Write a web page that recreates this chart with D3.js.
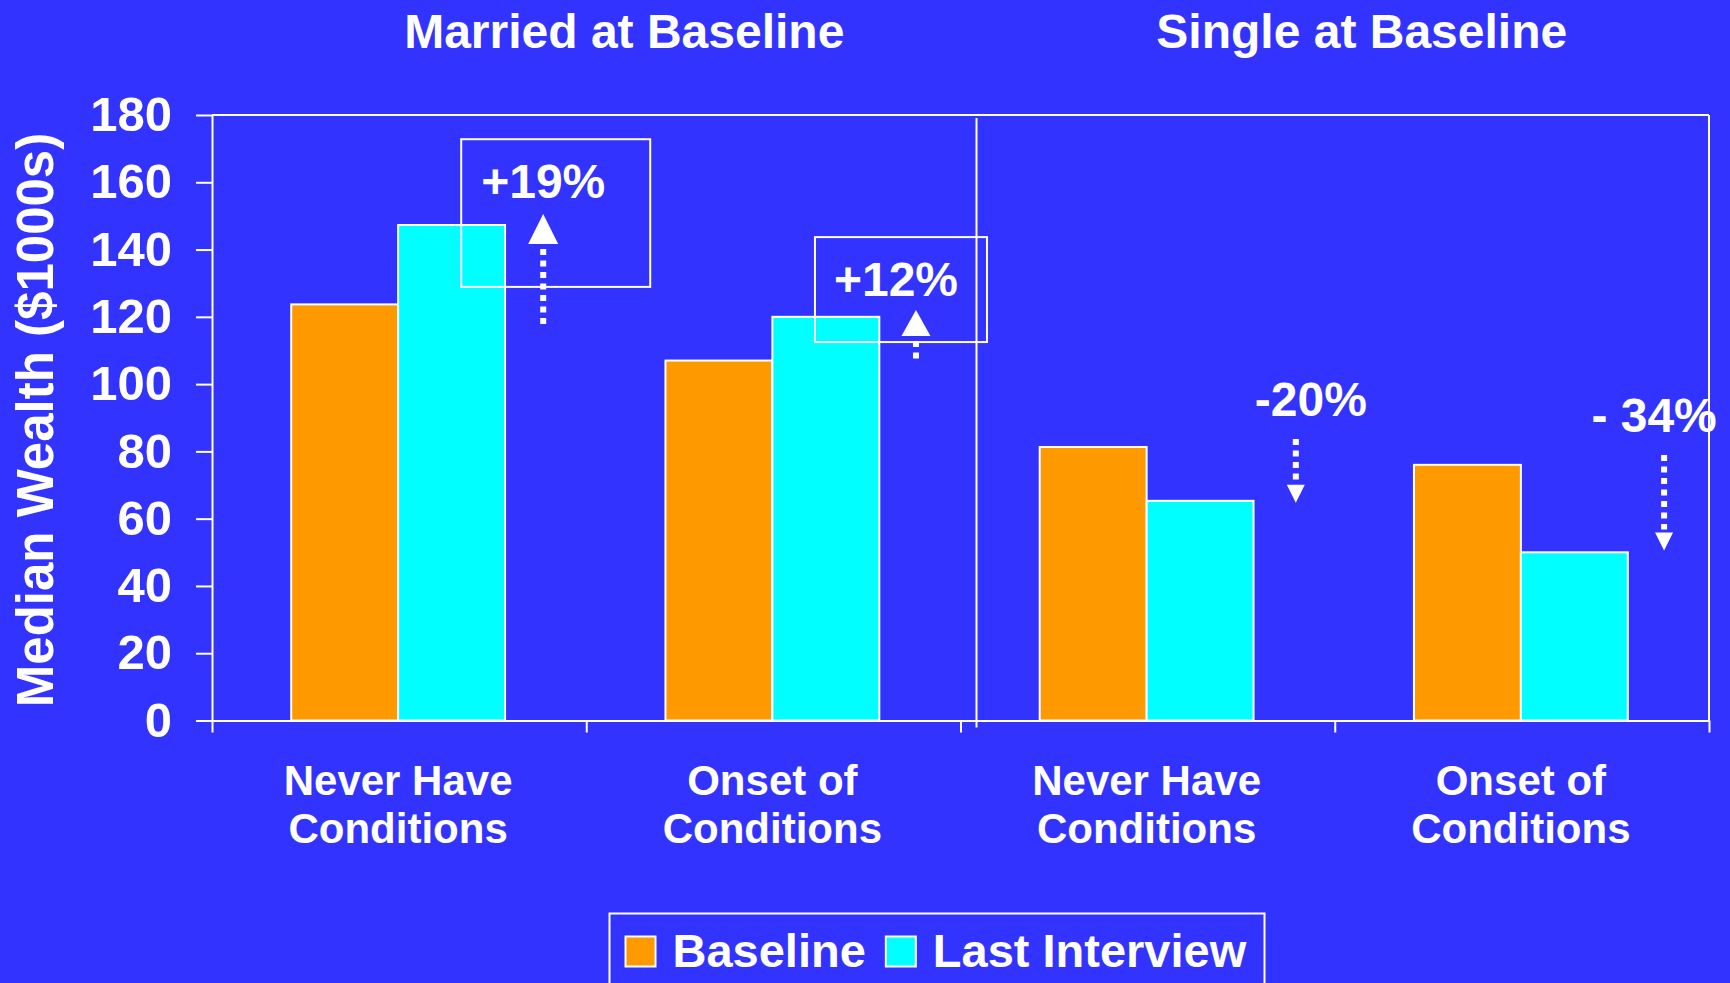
<!DOCTYPE html>
<html>
<head>
<meta charset="utf-8">
<script src="https://cdn.jsdelivr.net/npm/d3@7/dist/d3.min.js"></script>
<style>
  html, body { margin: 0; padding: 0; background: #3333ff; }
  svg { display: block; }
  text { font-family: "Liberation Sans", Arial, sans-serif; font-weight: bold; fill: #fff; }
</style>
</head>
<body>
<svg id="chart" width="1730" height="983"></svg>
<script>
// ---- data ----
const panels = ["Married at Baseline", "Single at Baseline"];
const categories = ["Never Have Conditions", "Onset of Conditions",
                    "Never Have Conditions", "Onset of Conditions"];
const series = ["Baseline", "Last Interview"];
const baseline = [123.7, 107, 81.3, 76];
const lastInterview = [147.3, 120, 65.3, 50];
const changeLabels = ["+19%", "+12%", "-20%", "- 34%"];
const yTicks = [0, 20, 40, 60, 80, 100, 120, 140, 160, 180];

// ---- layout ----
const W = 1730, H = 983;
const plot = { left: 212, right: 1709, top: 115, bottom: 720.5 };
const colors = { Baseline: "#ff9900", "Last Interview": "#00ffff" };
const bg = "#3333ff";

const svg = d3.select("#chart");
svg.append("rect").attr("width", W).attr("height", H).attr("fill", bg);

const groups = d3.range(categories.length);
const x0 = d3.scaleBand().domain(groups).range([plot.left, plot.right]).paddingInner(0).paddingOuter(0);
const x1 = d3.scaleBand().domain(series).range([0, x0.bandwidth()]).paddingInner(0).paddingOuter(0.75);
const xEdge = d3.scaleLinear().domain([0, groups.length]).range([plot.left, plot.right]);
const y = d3.scaleLinear().domain([0, 180]).range([plot.bottom, plot.top]);

// frame: top and right border
svg.append("line").attr("x1", plot.left).attr("x2", plot.right)
  .attr("y1", plot.top).attr("y2", plot.top)
  .attr("stroke", "#fff").attr("stroke-width", 2);
svg.append("line").attr("x1", plot.right).attr("x2", plot.right)
  .attr("y1", plot.top).attr("y2", plot.bottom)
  .attr("stroke", "#fff").attr("stroke-width", 2);

// bars
const rows = groups.map(i => ({ i, values: [
  { key: "Baseline", v: baseline[i] },
  { key: "Last Interview", v: lastInterview[i] }
]}));
const g = svg.append("g");
g.selectAll("g.grp").data(rows).join("g").attr("class", "grp")
  .attr("transform", d => `translate(${x0(d.i) - 1},0)`)
  .selectAll("rect").data(d => d.values).join("rect")
  .attr("x", d => x1(d.key))
  .attr("y", d => y(d.v))
  .attr("width", x1.bandwidth())
  .attr("height", d => y(0) - y(d.v))
  .attr("fill", d => colors[d.key])
  .attr("stroke", "#fff").attr("stroke-width", 2);

// y axis
const yAxis = svg.append("g").attr("transform", `translate(${plot.left},0)`)
  .call(d3.axisLeft(y).tickValues(yTicks).tickSize(16).tickSizeOuter(0).tickPadding(24));
yAxis.selectAll("path, line").attr("stroke", "#fff").attr("stroke-width", 2);
yAxis.selectAll("text").attr("font-size", 49).attr("font-family", '"Liberation Sans", Arial, sans-serif')
  .attr("font-weight", "bold").attr("fill", "#fff");

// x axis: ticks at group boundaries
const xAxis = svg.append("g").attr("transform", `translate(0,${plot.bottom})`)
  .call(d3.axisBottom(xEdge).tickValues(d3.range(groups.length + 1)).tickFormat("").tickSize(12).tickSizeOuter(0));
xAxis.selectAll("path, line").attr("stroke", "#fff").attr("stroke-width", 2);

// panel divider
svg.append("line").attr("x1", xEdge(2) + 16).attr("x2", xEdge(2) + 16)
  .attr("y1", plot.top + 3).attr("y2", plot.bottom + 7)
  .attr("stroke", "#fff").attr("stroke-width", 2);

// category labels (two lines)
groups.forEach(i => {
  const words = categories[i].split(" ");
  const lines = [words.slice(0, words.length - 1).join(" "), words[words.length - 1]];
  const cx = x0(i) + x0.bandwidth() / 2 - 1;
  const t = svg.append("text").attr("text-anchor", "middle").attr("font-size", 42);
  lines.forEach((ln, k) => t.append("tspan").attr("x", cx).attr("y", 795 + k * 48).text(ln));
});

// panel titles
const titleShift = [38, 27];
panels.forEach((p, k) => {
  const cx = (xEdge(2 * k) + xEdge(2 * k + 2)) / 2 + titleShift[k];
  svg.append("text").attr("x", cx).attr("y", 47.5).attr("text-anchor", "middle")
    .attr("font-size", 48).text(p);
});

// y axis title
svg.append("text")
  .attr("transform", `translate(52.5,420) rotate(-90)`)
  .attr("text-anchor", "middle").attr("font-size", 51)
  .text("Median Wealth ($1000s)");

// change annotations: dotted arrow from baseline level toward last-interview level
const notes = [
  { f: 0.885, from: 117.8, to: 150.6, head: [30, 30], tdx: 0,   tgap: 16, box: [-82, 107, 172.8, 128.9] },
  { f: 0.881, from: 107.5, to: 122.0, head: [29, 26], tdx: -20, tgap: 14, box: [-101, 71, 143.7, 112.5] },
  { f: 0.896, from: 83.7,  to: 64.7,  head: [18, 18], tdx: 15,  tgap: 23, box: null },
  { f: 0.880, from: 78.9,  to: 50.5,  head: [18, 18], tdx: -10, tgap: 23, box: null }
];
notes.forEach((n, i) => {
  const ax = x0(i) + n.f * x0.bandwidth();
  const up = lastInterview[i] > baseline[i];
  const tip = y(n.to);
  const [hw, hh] = n.head;
  const a = svg.append("g");
  if (up) {
    const base = tip + hh;
    a.append("path").attr("d", `M${ax},${tip}L${ax + hw / 2},${base}L${ax - hw / 2},${base}Z`).attr("fill", "#fff");
    a.append("line").attr("x1", ax).attr("x2", ax).attr("y1", base + 5).attr("y2", y(n.from))
      .attr("stroke", "#fff").attr("stroke-width", 6).attr("stroke-dasharray", "6,5.5");
    svg.append("text").attr("x", ax + n.tdx).attr("y", tip - n.tgap).attr("text-anchor", "middle")
      .attr("font-size", 48).text(changeLabels[i]);
  } else {
    const base = tip - hh;
    a.append("path").attr("d", `M${ax},${tip}L${ax + hw / 2},${base}L${ax - hw / 2},${base}Z`).attr("fill", "#fff");
    a.append("line").attr("x1", ax).attr("x2", ax).attr("y1", y(n.from)).attr("y2", base - 3)
      .attr("stroke", "#fff").attr("stroke-width", 6).attr("stroke-dasharray", "6,5.5");
    svg.append("text").attr("x", ax + n.tdx).attr("y", y(n.from) - n.tgap).attr("text-anchor", "middle")
      .attr("font-size", 48).text(changeLabels[i]);
  }
  if (n.box) {
    const [l, r, top, bot] = n.box;
    svg.append("rect").attr("x", ax + l).attr("y", y(top))
      .attr("width", r - l).attr("height", y(bot) - y(top))
      .attr("fill", "none").attr("stroke", "#fff").attr("stroke-width", 2);
  }
});

// legend
const leg = svg.append("g");
leg.append("rect")
  .attr("x", 609.5).attr("y", 913.5).attr("width", 655).attr("height", 100)
  .attr("fill", "none").attr("stroke", "#fff").attr("stroke-width", 2);
let lx = 625.5;
series.forEach((s) => {
  leg.append("rect").attr("x", lx).attr("y", 936.5).attr("width", 30).attr("height", 30)
    .attr("fill", colors[s]).attr("stroke", "#fff").attr("stroke-width", 2);
  const t = leg.append("text").attr("x", lx + 47).attr("y", 966.5).attr("font-size", 47).text(s);
  lx = lx + 47 + t.node().getComputedTextLength() + 20;
});
</script>
</body>
</html>
